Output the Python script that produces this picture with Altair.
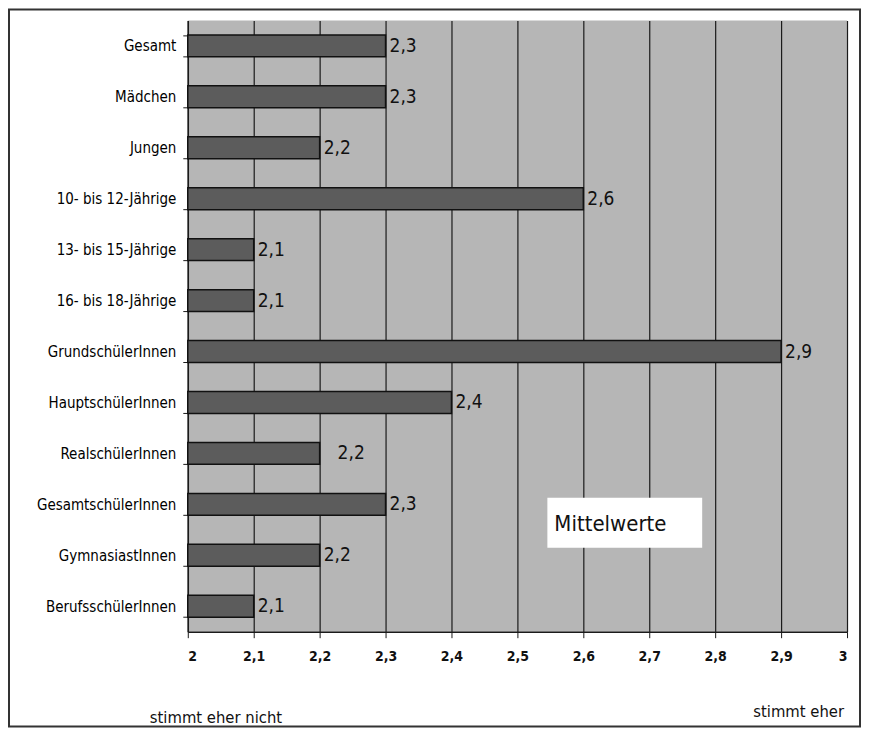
import altair as alt
import pandas as pd

categories = ["Gesamt", "Mädchen", "Jungen", "10- bis 12-Jährige", "13- bis 15-Jährige",
              "16- bis 18-Jährige", "GrundschülerInnen", "HauptschülerInnen",
              "RealschülerInnen", "GesamtschülerInnen", "GymnasiastInnen", "BerufsschülerInnen"]
values = [2.3, 2.3, 2.2, 2.6, 2.1, 2.1, 2.9, 2.4, 2.2, 2.3, 2.2, 2.1]
x_ticks = [2.0, 2.1, 2.2, 2.3, 2.4, 2.5, 2.6, 2.7, 2.8, 2.9, 3.0]
annotation = "Mittelwerte"
low_label = "stimmt eher nicht"
high_label = "stimmt eher"

FONT = "DejaVu Sans Condensed, Liberation Sans"

df = pd.DataFrame({"category": categories, "value": values})
df["base"] = 2.0
df["label"] = [f"{v:.1f}".replace(".", ",") for v in values]

xscale = alt.Scale(domain=[2, 3], nice=False, zero=False)
yscale = alt.Scale(paddingInner=0.57, paddingOuter=0.285)

base = alt.Chart(df)

bars = base.mark_bar(color="#5c5c5c", stroke="#111111", strokeWidth=1.5).encode(
    x=alt.X("value:Q", scale=xscale, title=None,
            axis=alt.Axis(values=x_ticks, grid=True, gridColor="#1a1a1a", gridWidth=1.2,
                          gridOpacity=1, domainColor="#1a1a1a", domainWidth=1.5,
                          tickColor="#1a1a1a", tickSize=6, labelPadding=12,
                          labelFont=FONT, labelFontSize=14, labelFontWeight="bold",
                          labelColor="#111111",
                          labelExpr="replace(format(datum.value, '.1~f'), '.', ',')")),
    x2="base:Q",
    y=alt.Y("category:N", sort=categories, scale=yscale, title=None,
            axis=alt.Axis(tickBand="extent", tickSize=5, tickColor="#1a1a1a",
                          domainColor="#1a1a1a", domainWidth=1.5, labelPadding=7,
                          labelFont=FONT, labelFontSize=15, labelColor="#000000")),
)

labels_main = base.transform_filter(
    alt.datum.category != "RealschülerInnen"
).mark_text(align="left", baseline="middle", dx=4, font=FONT, fontSize=19,
            color="#111111").encode(
    x="value:Q", y=alt.Y("category:N", sort=categories), text="label:N")

labels_shift = base.transform_filter(
    alt.datum.category == "RealschülerInnen"
).mark_text(align="left", baseline="middle", dx=18, font=FONT, fontSize=19,
            color="#111111").encode(
    x="value:Q", y=alt.Y("category:N", sort=categories), text="label:N")

box = alt.Chart(pd.DataFrame({"t": [annotation]})).mark_rect(color="white").encode(
    x=alt.value(360), x2=alt.value(515), y=alt.value(478), y2=alt.value(528))
box_text = alt.Chart(pd.DataFrame({"t": [annotation]})).mark_text(
    align="left", baseline="middle", font=FONT, fontSize=22,
    color="#111111").encode(x=alt.value(367), y=alt.value(504), text="t:N")

low_text = alt.Chart(pd.DataFrame({"t": [low_label]})).mark_text(
    align="left", baseline="middle", font=FONT, fontSize=16.5, color="#111111").encode(
    x=alt.value(-38), y=alt.value(698), text="t:N")
high_text = alt.Chart(pd.DataFrame({"t": [high_label]})).mark_text(
    align="right", baseline="middle", font=FONT, fontSize=16.5, color="#111111").encode(
    x=alt.value(657), y=alt.value(692), text="t:N")

frame = alt.Chart(pd.DataFrame({"t": [0]})).mark_rect(
    fill=None, stroke="#333333", strokeWidth=2).encode(
    x=alt.value(-179), x2=alt.value(673), y=alt.value(-11), y2=alt.value(707))

chart = alt.layer(
    bars, labels_main, labels_shift, box, box_text, low_text, high_text, frame
).properties(
    width=660, height=612,
    autosize=alt.AutoSizeParams(type="none"),
    padding={"left": 180, "top": 12, "right": 15, "bottom": 97},
    background="white",
).configure_view(fill="#b6b6b6", stroke=None)

chart.save("out.html", embed_options={"renderer": "svg", "actions": False})
